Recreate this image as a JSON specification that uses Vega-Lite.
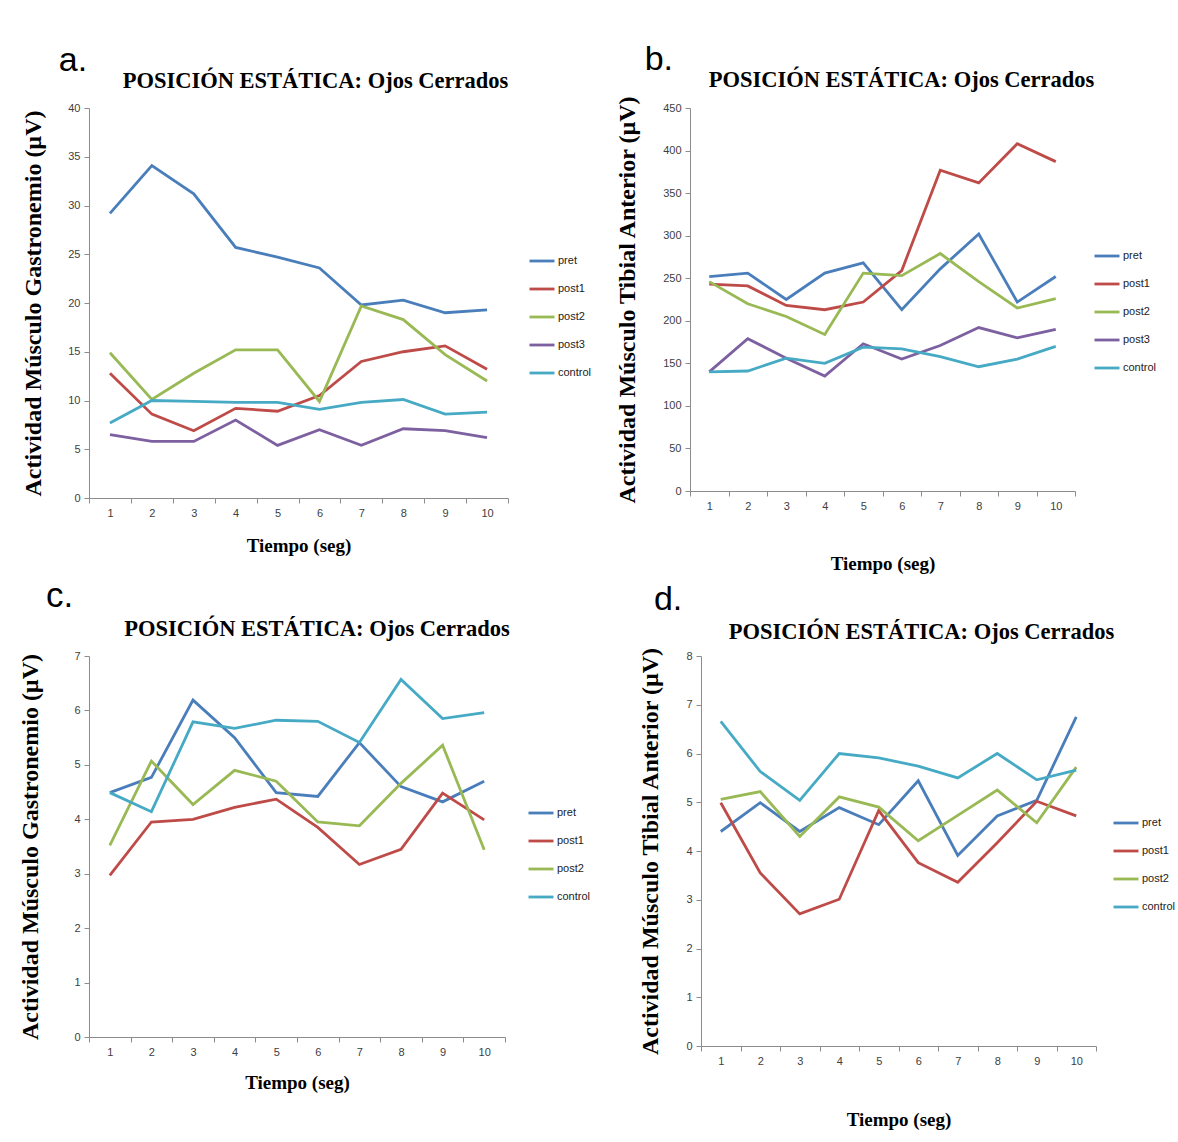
{
"$schema": "https://vega.github.io/schema/vega-lite/v6.json",
"background": "white",
"padding": {"left": 18, "top": 43, "right": 5, "bottom": 5},
"datasets": {
"a": [
{"t":1,"s":"pret","v":29.2},{"t":2,"s":"pret","v":34.1},{"t":3,"s":"pret","v":31.2},{"t":4,"s":"pret","v":25.7},{"t":5,"s":"pret","v":24.7},{"t":6,"s":"pret","v":23.6},{"t":7,"s":"pret","v":19.8},{"t":8,"s":"pret","v":20.3},{"t":9,"s":"pret","v":19.0},{"t":10,"s":"pret","v":19.3},
{"t":1,"s":"post1","v":12.8},{"t":2,"s":"post1","v":8.6},{"t":3,"s":"post1","v":6.9},{"t":4,"s":"post1","v":9.2},{"t":5,"s":"post1","v":8.9},{"t":6,"s":"post1","v":10.5},{"t":7,"s":"post1","v":14.0},{"t":8,"s":"post1","v":15.0},{"t":9,"s":"post1","v":15.6},{"t":10,"s":"post1","v":13.2},
{"t":1,"s":"post2","v":14.9},{"t":2,"s":"post2","v":10.1},{"t":3,"s":"post2","v":12.8},{"t":4,"s":"post2","v":15.2},{"t":5,"s":"post2","v":15.2},{"t":6,"s":"post2","v":9.9},{"t":7,"s":"post2","v":19.7},{"t":8,"s":"post2","v":18.3},{"t":9,"s":"post2","v":14.7},{"t":10,"s":"post2","v":12.0},
{"t":1,"s":"post3","v":6.5},{"t":2,"s":"post3","v":5.8},{"t":3,"s":"post3","v":5.8},{"t":4,"s":"post3","v":8.0},{"t":5,"s":"post3","v":5.4},{"t":6,"s":"post3","v":7.0},{"t":7,"s":"post3","v":5.4},{"t":8,"s":"post3","v":7.1},{"t":9,"s":"post3","v":6.9},{"t":10,"s":"post3","v":6.2},
{"t":1,"s":"control","v":7.7},{"t":2,"s":"control","v":10.0},{"t":3,"s":"control","v":9.9},{"t":4,"s":"control","v":9.8},{"t":5,"s":"control","v":9.8},{"t":6,"s":"control","v":9.1},{"t":7,"s":"control","v":9.8},{"t":8,"s":"control","v":10.1},{"t":9,"s":"control","v":8.6},{"t":10,"s":"control","v":8.8}
],
"b": [
{"t":1,"s":"pret","v":252},{"t":2,"s":"pret","v":256},{"t":3,"s":"pret","v":225},{"t":4,"s":"pret","v":256},{"t":5,"s":"pret","v":268},{"t":6,"s":"pret","v":213},{"t":7,"s":"pret","v":261},{"t":8,"s":"pret","v":302},{"t":9,"s":"pret","v":222},{"t":10,"s":"pret","v":252},
{"t":1,"s":"post1","v":243},{"t":2,"s":"post1","v":241},{"t":3,"s":"post1","v":218},{"t":4,"s":"post1","v":213},{"t":5,"s":"post1","v":222},{"t":6,"s":"post1","v":259},{"t":7,"s":"post1","v":377},{"t":8,"s":"post1","v":362},{"t":9,"s":"post1","v":408},{"t":10,"s":"post1","v":387},
{"t":1,"s":"post2","v":246},{"t":2,"s":"post2","v":220},{"t":3,"s":"post2","v":205},{"t":4,"s":"post2","v":184},{"t":5,"s":"post2","v":256},{"t":6,"s":"post2","v":253},{"t":7,"s":"post2","v":279},{"t":8,"s":"post2","v":246},{"t":9,"s":"post2","v":215},{"t":10,"s":"post2","v":226},
{"t":1,"s":"post3","v":140},{"t":2,"s":"post3","v":179},{"t":3,"s":"post3","v":156},{"t":4,"s":"post3","v":135},{"t":5,"s":"post3","v":173},{"t":6,"s":"post3","v":155},{"t":7,"s":"post3","v":171},{"t":8,"s":"post3","v":192},{"t":9,"s":"post3","v":180},{"t":10,"s":"post3","v":190},
{"t":1,"s":"control","v":140},{"t":2,"s":"control","v":141},{"t":3,"s":"control","v":156},{"t":4,"s":"control","v":150},{"t":5,"s":"control","v":169},{"t":6,"s":"control","v":167},{"t":7,"s":"control","v":158},{"t":8,"s":"control","v":146},{"t":9,"s":"control","v":155},{"t":10,"s":"control","v":170}
],
"c": [
{"t":1,"s":"pret","v":4.49},{"t":2,"s":"pret","v":4.77},{"t":3,"s":"pret","v":6.19},{"t":4,"s":"pret","v":5.5},{"t":5,"s":"pret","v":4.49},{"t":6,"s":"pret","v":4.42},{"t":7,"s":"pret","v":5.41},{"t":8,"s":"pret","v":4.6},{"t":9,"s":"pret","v":4.32},{"t":10,"s":"pret","v":4.7},
{"t":1,"s":"post1","v":2.97},{"t":2,"s":"post1","v":3.95},{"t":3,"s":"post1","v":4.0},{"t":4,"s":"post1","v":4.22},{"t":5,"s":"post1","v":4.37},{"t":6,"s":"post1","v":3.85},{"t":7,"s":"post1","v":3.17},{"t":8,"s":"post1","v":3.45},{"t":9,"s":"post1","v":4.48},{"t":10,"s":"post1","v":3.99},
{"t":1,"s":"post2","v":3.52},{"t":2,"s":"post2","v":5.07},{"t":3,"s":"post2","v":4.27},{"t":4,"s":"post2","v":4.9},{"t":5,"s":"post2","v":4.7},{"t":6,"s":"post2","v":3.95},{"t":7,"s":"post2","v":3.88},{"t":8,"s":"post2","v":4.66},{"t":9,"s":"post2","v":5.36},{"t":10,"s":"post2","v":3.44},
{"t":1,"s":"control","v":4.49},{"t":2,"s":"control","v":4.14},{"t":3,"s":"control","v":5.79},{"t":4,"s":"control","v":5.67},{"t":5,"s":"control","v":5.82},{"t":6,"s":"control","v":5.8},{"t":7,"s":"control","v":5.41},{"t":8,"s":"control","v":6.57},{"t":9,"s":"control","v":5.85},{"t":10,"s":"control","v":5.96}
],
"d": [
{"t":1,"s":"pret","v":4.40},{"t":2,"s":"pret","v":4.99},{"t":3,"s":"pret","v":4.40},{"t":4,"s":"pret","v":4.89},{"t":5,"s":"pret","v":4.54},{"t":6,"s":"pret","v":5.44},{"t":7,"s":"pret","v":3.91},{"t":8,"s":"pret","v":4.72},{"t":9,"s":"pret","v":5.04},{"t":10,"s":"pret","v":6.75},
{"t":1,"s":"post1","v":4.99},{"t":2,"s":"post1","v":3.55},{"t":3,"s":"post1","v":2.71},{"t":4,"s":"post1","v":3.01},{"t":5,"s":"post1","v":4.83},{"t":6,"s":"post1","v":3.76},{"t":7,"s":"post1","v":3.36},{"t":8,"s":"post1","v":4.17},{"t":9,"s":"post1","v":5.02},{"t":10,"s":"post1","v":4.72},
{"t":1,"s":"post2","v":5.06},{"t":2,"s":"post2","v":5.22},{"t":3,"s":"post2","v":4.30},{"t":4,"s":"post2","v":5.11},{"t":5,"s":"post2","v":4.90},{"t":6,"s":"post2","v":4.21},{"t":7,"s":"post2","v":4.73},{"t":8,"s":"post2","v":5.25},{"t":9,"s":"post2","v":4.58},{"t":10,"s":"post2","v":5.72},
{"t":1,"s":"control","v":6.66},{"t":2,"s":"control","v":5.63},{"t":3,"s":"control","v":5.04},{"t":4,"s":"control","v":6.0},{"t":5,"s":"control","v":5.91},{"t":6,"s":"control","v":5.74},{"t":7,"s":"control","v":5.5},{"t":8,"s":"control","v":6.0},{"t":9,"s":"control","v":5.46},{"t":10,"s":"control","v":5.66}
]
},
"config": {
  "view": {"stroke": null},
  "axis": {"grid": false, "domainColor": "#8c8c8c", "tickColor": "#8c8c8c", "tickSize": 5, "labelFont": "Liberation Sans", "labelFontSize": 11, "labelColor": "#404040", "labelPadding": 4, "titleFont": "Liberation Serif", "titleFontSize": 19, "titleFontWeight": "bold", "titleColor": "#000000"},
  "axisY": {"titleFontSize": 24},
  "title": {"font": "Liberation Serif", "fontSize": 22.5, "fontWeight": "bold", "color": "#000000"},
  "legend": {"symbolType": "stroke", "symbolSize": 625, "symbolStrokeWidth": 3, "labelFont": "Liberation Sans", "labelFontSize": 11, "labelColor": "#222222", "rowPadding": 8, "labelOffset": 2},
  "line": {"strokeWidth": 2.8}
},
"spacing": 5,
"resolve": {"scale": {"color": "independent", "x": "independent", "y": "independent"}, "legend": {"color": "independent"}},
"vconcat": [
{
 "spacing": 23,
 "resolve": {"scale": {"color": "independent", "x": "independent", "y": "independent"}, "legend": {"color": "independent"}},
 "hconcat": [
  {
   "title": {"text": "a.", "anchor": "start", "font": "Liberation Sans", "fontSize": 34, "fontWeight": "normal", "dx": 37, "offset": -8},
   "vconcat": [{
    "width": 419, "height": 390,
    "title": {"text": "POSICIÓN ESTÁTICA: Ojos Cerrados", "offset": 10, "dx": 17},
    "data": {"name": "a"},
    "mark": {"type": "line"},
    "encoding": {
     "x": {"field": "t", "type": "ordinal", "bandPosition": 0.5, "scale": {"type": "band", "paddingInner": 0, "paddingOuter": 0}, "axis": {"title": "Tiempo (seg)", "labelAngle": 0, "tickBand": "extent", "titlePadding": 18}},
     "y": {"field": "v", "type": "quantitative", "scale": {"domain": [0, 40]}, "axis": {"values": [0,5,10,15,20,25,30,35,40], "title": "Actividad Músculo Gastronemio (µV)", "titlePadding": 22}},
     "color": {"field": "s", "type": "nominal", "sort": null, "scale": {"domain": ["pret","post1","post2","post3","control"], "range": ["#4A7EBB","#BE4B48","#98B954","#7D60A0","#46AAC5"]}, "legend": {"title": null, "orient": "none", "legendX": 439, "legendY": 139}}
    }
   }]
  },
  {
   "title": {"text": "b.", "anchor": "start", "font": "Liberation Sans", "fontSize": 34, "fontWeight": "normal", "dx": 29, "offset": -8},
   "vconcat": [{
    "width": 385, "height": 383,
    "title": {"text": "POSICIÓN ESTÁTICA: Ojos Cerrados", "offset": 3, "dx": 19},
    "data": {"name": "b"},
    "mark": {"type": "line"},
    "encoding": {
     "x": {"field": "t", "type": "ordinal", "bandPosition": 0.5, "scale": {"type": "band", "paddingInner": 0, "paddingOuter": 0}, "axis": {"title": "Tiempo (seg)", "labelAngle": 0, "tickBand": "extent", "titlePadding": 43}},
     "y": {"field": "v", "type": "quantitative", "scale": {"domain": [0, 450]}, "axis": {"values": [0,50,100,150,200,250,300,350,400,450], "title": "Actividad Músculo Tibial Anterior (µV)", "titlePadding": 23}},
     "color": {"field": "s", "type": "nominal", "sort": null, "scale": {"domain": ["pret","post1","post2","post3","control"], "range": ["#4A7EBB","#BE4B48","#98B954","#7D60A0","#46AAC5"]}, "legend": {"title": null, "orient": "none", "legendX": 403, "legendY": 134}}
    }
   }]
  }
 ]
},
{
 "spacing": 47,
 "resolve": {"scale": {"color": "independent", "x": "independent", "y": "independent"}, "legend": {"color": "independent"}},
 "hconcat": [
  {
   "title": {"text": "c.", "anchor": "start", "font": "Liberation Sans", "fontSize": 35, "fontWeight": "normal", "dx": 27, "offset": 4},
   "vconcat": [{
    "width": 416, "height": 381,
    "title": {"text": "POSICIÓN ESTÁTICA: Ojos Cerrados", "offset": 10, "dx": 20},
    "data": {"name": "c"},
    "mark": {"type": "line"},
    "encoding": {
     "x": {"field": "t", "type": "ordinal", "bandPosition": 0.5, "scale": {"type": "band", "paddingInner": 0, "paddingOuter": 0}, "axis": {"title": "Tiempo (seg)", "labelAngle": 0, "tickBand": "extent", "titlePadding": 16}},
     "y": {"field": "v", "type": "quantitative", "scale": {"domain": [0, 7]}, "axis": {"values": [0,1,2,3,4,5,6,7], "title": "Actividad Músculo Gastronemio (µV)", "titlePadding": 31}},
     "color": {"field": "s", "type": "nominal", "sort": null, "scale": {"domain": ["pret","post1","post2","control"], "range": ["#4A7EBB","#BE4B48","#98B954","#46AAC5"]}, "legend": {"title": null, "orient": "none", "legendX": 438, "legendY": 143}}
    }
   }]
  },
  {
   "title": {"text": "d.", "anchor": "start", "font": "Liberation Sans", "fontSize": 34, "fontWeight": "normal", "dx": 15, "offset": 4},
   "vconcat": [{
    "width": 395, "height": 390,
    "title": {"text": "POSICIÓN ESTÁTICA: Ojos Cerrados", "offset": 3, "dx": 23},
    "data": {"name": "d"},
    "mark": {"type": "line"},
    "encoding": {
     "x": {"field": "t", "type": "ordinal", "bandPosition": 0.5, "scale": {"type": "band", "paddingInner": 0, "paddingOuter": 0}, "axis": {"title": "Tiempo (seg)", "labelAngle": 0, "tickBand": "extent", "titlePadding": 44}},
     "y": {"field": "v", "type": "quantitative", "scale": {"domain": [0, 8]}, "axis": {"values": [0,1,2,3,4,5,6,7,8], "title": "Actividad Músculo Tibial Anterior (µV)", "titlePadding": 23}},
     "color": {"field": "s", "type": "nominal", "sort": null, "scale": {"domain": ["pret","post1","post2","control"], "range": ["#4A7EBB","#BE4B48","#98B954","#46AAC5"]}, "legend": {"title": null, "orient": "none", "legendX": 411, "legendY": 153}}
    }
   }]
  }
 ]
}
]
}
